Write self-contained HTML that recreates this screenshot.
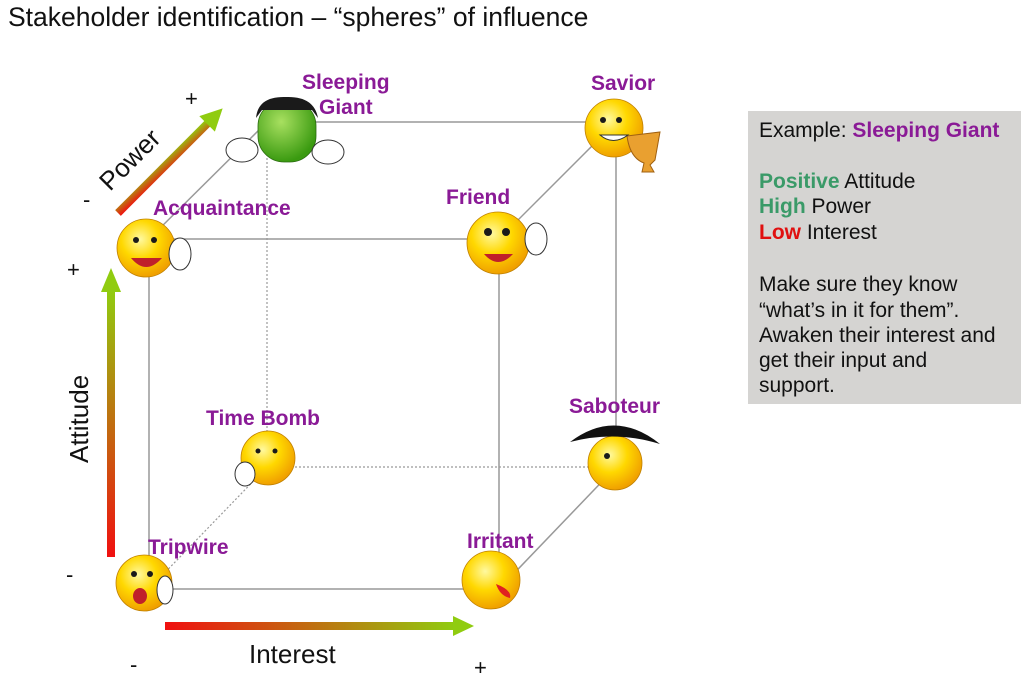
<!DOCTYPE html>
<html><head><meta charset="utf-8"><style>
body{margin:0;background:#fff;width:1024px;height:681px;overflow:hidden}
svg{display:block}
text{font-family:"Liberation Sans",Arial,sans-serif}
.lb{font-weight:bold;font-size:21px;fill:#8a1a96}
.bx{font-size:21px;fill:#111}
</style></head><body>
<svg width="1024" height="681" viewBox="0 0 1024 681">
<defs>
<radialGradient id="y" cx="40%" cy="35%" r="65%"><stop offset="0" stop-color="#fff9a0"/><stop offset="0.5" stop-color="#ffd800"/><stop offset="1" stop-color="#f0a000"/></radialGradient>
<radialGradient id="g" cx="40%" cy="35%" r="65%"><stop offset="0" stop-color="#a8e060"/><stop offset="1" stop-color="#3a9a10"/></radialGradient>
<linearGradient id="av" x1="0" y1="1" x2="0" y2="0"><stop offset="0" stop-color="#f01010"/><stop offset="1" stop-color="#90cc10"/></linearGradient>
<linearGradient id="ah" x1="0" y1="0" x2="1" y2="0"><stop offset="0" stop-color="#f01010"/><stop offset="1" stop-color="#90cc10"/></linearGradient>
<linearGradient id="ap" x1="0" y1="1" x2="1" y2="0"><stop offset="0" stop-color="#f01010"/><stop offset="1" stop-color="#90cc10"/></linearGradient>
</defs>
<text x="8" y="26" font-size="26.5" fill="#111">Stakeholder identification – “spheres” of influence</text>
<g stroke="#999" stroke-width="1.5" fill="none">
<line x1="149" y1="239" x2="499" y2="239"/><line x1="149" y1="239" x2="149" y2="589"/>
<line x1="499" y1="239" x2="499" y2="589"/><line x1="149" y1="589" x2="499" y2="589"/>
<line x1="267" y1="122" x2="616" y2="122"/><line x1="616" y1="122" x2="616" y2="467"/>
<line x1="149" y1="239" x2="267" y2="122"/><line x1="499" y1="239" x2="616" y2="122"/>
<line x1="499" y1="589" x2="616" y2="467"/>
</g>
<g stroke="#999" stroke-width="1.2" stroke-dasharray="2,2" fill="none">
<line x1="267" y1="122" x2="267" y2="467"/><line x1="267" y1="467" x2="616" y2="467"/>
<line x1="149" y1="589" x2="267" y2="467"/>
</g>
<rect x="107" y="290" width="8" height="267" fill="url(#av)"/>
<polygon points="101,292 111,268 121,292" fill="#90cc10"/>
<rect x="165" y="622" width="290" height="8" fill="url(#ah)"/>
<polygon points="453,616 474,626 453,636" fill="#90cc10"/>
<g transform="translate(118,213) rotate(-45)"><rect x="0" y="-4" width="128" height="8" fill="url(#ap)"/><polygon points="126,-11 148,0 126,11" fill="#90cc10"/></g>
<text transform="translate(110,192) rotate(-45)" font-size="26" fill="#111">Power</text>
<text transform="translate(88,463) rotate(-90)" font-size="26" fill="#111">Attitude</text>
<text x="249" y="663" font-size="26" fill="#111">Interest</text>
<g font-size="22" fill="#111"><text x="185" y="106">+</text><text x="83" y="207">-</text><text x="67" y="277">+</text><text x="66" y="582">-</text><text x="130" y="672">-</text><text x="474" y="675">+</text></g>
<g stroke="#c08000" stroke-width="0.8">
<circle cx="146" cy="248" r="29" fill="url(#y)"/>
<circle cx="498" cy="243" r="31" fill="url(#y)"/>
<circle cx="614" cy="128" r="29" fill="url(#y)"/>
<circle cx="268" cy="458" r="27" fill="url(#y)"/>
<circle cx="615" cy="463" r="27" fill="url(#y)"/>
<circle cx="144" cy="583" r="28" fill="url(#y)"/>
<circle cx="491" cy="580" r="29" fill="url(#y)"/>
<rect x="258" y="100" width="58" height="62" rx="26" fill="url(#g)" stroke="#2a6a10"/>
</g>
<path d="M256 118 Q258 96 286 97 Q314 96 318 118 L312 110 L262 110Z" fill="#1a1a1a"/>
<path d="M570 442 Q615 408 660 444 Q615 430 570 442Z" fill="#111"/>
<g fill="#fff" stroke="#333" stroke-width="1">
<ellipse cx="242" cy="150" rx="16" ry="12"/><ellipse cx="328" cy="152" rx="16" ry="12"/>
<ellipse cx="180" cy="254" rx="11" ry="16"/><ellipse cx="536" cy="239" rx="11" ry="16"/>
<ellipse cx="245" cy="474" rx="10" ry="12"/><ellipse cx="165" cy="590" rx="8" ry="14"/>
</g>
<path d="M627 136 L660 132 L655 160 L650 165 L654 172 L642 172 L644 163 Q630 158 627 136Z" fill="#e9a030" stroke="#a06010"/>
<g fill="#1a1a1a"><circle cx="136" cy="240" r="3"/><circle cx="154" cy="240" r="3"/><circle cx="488" cy="232" r="4"/><circle cx="506" cy="232" r="4"/><circle cx="603" cy="120" r="3"/><circle cx="619" cy="120" r="3"/><circle cx="134" cy="574" r="3"/><circle cx="150" cy="574" r="3"/><circle cx="607" cy="456" r="3"/><circle cx="258" cy="451" r="2.5"/><circle cx="275" cy="451" r="2.5"/></g>
<path d="M131 258 Q146 276 162 258Z" fill="#c0202a"/><path d="M484 254 Q498 270 513 254Z" fill="#c0202a"/><path d="M600 135 Q613 146 628 135Z" fill="#fff" stroke="#333"/>
<ellipse cx="140" cy="596" rx="7" ry="8" fill="#c0202a"/><path d="M496 584 Q512 590 510 598 Q500 596 496 584Z" fill="#e02020"/>
<text class="lb" x="302" y="89">Sleeping</text><text class="lb" x="319" y="114">Giant</text>
<text class="lb" x="591" y="90">Savior</text>
<text class="lb" x="153" y="215">Acquaintance</text>
<text class="lb" x="446" y="204">Friend</text>
<text class="lb" x="206" y="425">Time Bomb</text>
<text class="lb" x="569" y="413">Saboteur</text>
<text class="lb" x="148" y="554">Tripwire</text>
<text class="lb" x="467" y="548">Irritant</text>
<rect x="748" y="111" width="273" height="293" fill="#d5d4d2"/>
<text class="bx" x="759" y="137">Example: <tspan font-weight="bold" fill="#8a1a96">Sleeping Giant</tspan></text>
<text class="bx" x="759" y="188"><tspan font-weight="bold" fill="#3a9a68">Positive</tspan> Attitude</text>
<text class="bx" x="759" y="213"><tspan font-weight="bold" fill="#3a9a68">High</tspan> Power</text>
<text class="bx" x="759" y="239"><tspan font-weight="bold" fill="#e01010">Low</tspan> Interest</text>
<text class="bx" x="759" y="291">Make sure they know</text>
<text class="bx" x="759" y="317">“what’s in it for them”.</text>
<text class="bx" x="759" y="342">Awaken their interest and</text>
<text class="bx" x="759" y="367">get their input and</text>
<text class="bx" x="759" y="392">support.</text>
</svg>
</body></html>
